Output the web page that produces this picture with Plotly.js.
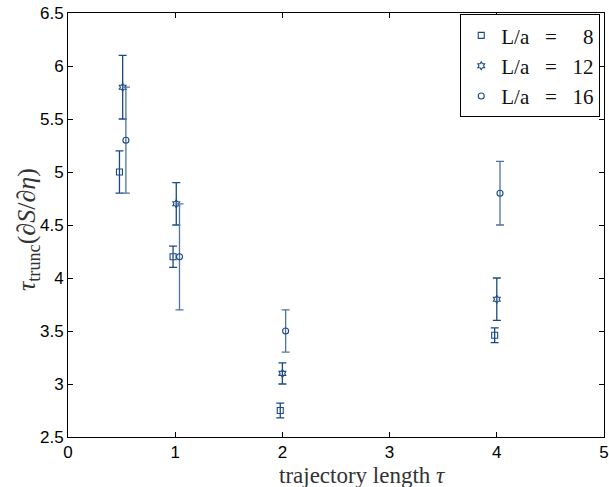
<!DOCTYPE html>
<html>
<head>
<meta charset="utf-8">
<script src="https://cdn.plot.ly/plotly-3.0.1.min.js"></script>
<style>html,body{margin:0;padding:0;background:#fff;}#chart{width:609px;height:487px;}</style>
</head>
<body>
<div id="chart"></div>
<script>
// Data
const seriesNames = ["L/a\u00A0\u00A0\u00A0=\u00A0\u00A0\u00A0\u20078", "L/a\u00A0\u00A0\u00A0=\u00A0\u00A0\u00A012", "L/a\u00A0\u00A0\u00A0=\u00A0\u00A0\u00A016"];
const x8  = [0.48, 0.98, 1.98, 3.98];
const y8  = [5.0, 4.2, 2.75, 3.46];
const e8  = [0.2, 0.1, 0.07, 0.07];
const x12 = [0.51, 1.01, 2.00, 4.00];
const y12 = [5.8, 4.7, 3.1, 3.8];
const e12 = [0.3, 0.2, 0.1, 0.2];
const x16 = [0.54, 1.04, 2.03, 4.03];
const y16 = [5.3, 4.2, 3.5, 4.8];
const e16 = [0.5, 0.5, 0.2, 0.3];
const xTicks = [0, 1, 2, 3, 4, 5];
const yTicks = [2.5, 3, 3.5, 4, 4.5, 5, 5.5, 6, 6.5];
const xTitle = "trajectory length <i>τ</i>";
const yTitle = "<i>τ</i><sub>trunc</sub>(∂<i>S</i>/∂<i>η</i>)";

const col = "#1a4a85";
function tr(x, y, e, name, sym, ecol) {
  return {
    type: "scatter", mode: "markers", x: x, y: y, name: name,
    marker: {symbol: sym, size: 6, color: col, line: {color: col, width: 1.1}},
    error_y: {type: "data", array: e, visible: true, color: ecol, thickness: 1.3, width: 4}
  };
}
const data = [
  tr(x8, y8, e8, seriesNames[0], "square-open", col),
  tr(x12, y12, e12, seriesNames[1], "hexagram-open", col),
  tr(x16, y16, e16, seriesNames[2], "circle-open", "#4f73a0")
];
const serif = "Liberation Serif, DejaVu Serif, serif";
const sans = "Liberation Sans, Arial, sans-serif";
const layout = {
  width: 609, height: 487,
  margin: {l: 68, r: 5, t: 13, b: 50},
  paper_bgcolor: "#fff", plot_bgcolor: "#fff",
  showlegend: true,
  legend: {
    x: 0.993, y: 0.997, xanchor: "right", yanchor: "top",
    bgcolor: "#fff", bordercolor: "#000", borderwidth: 1,
    font: {family: serif, size: 21, color: "#111"},
    tracegroupgap: 0, itemsizing: "trace", itemwidth: 30
  },
  xaxis: {
    range: [0, 5], tickvals: xTicks, ticktext: xTicks.map(String),
    ticks: "inside", ticklen: 5, tickcolor: "#000", ticklabeloverflow: "allow",
    showline: true, linecolor: "#000", linewidth: 1, mirror: "allticks",
    showgrid: false, zeroline: false,
    tickfont: {family: sans, size: 17, color: "#000"}
  },
  yaxis: {
    range: [2.5, 6.5], tickvals: yTicks, ticktext: yTicks.map(String),
    ticks: "inside", ticklen: 5, tickcolor: "#000",
    showline: true, linecolor: "#000", linewidth: 1, mirror: "allticks",
    showgrid: false, zeroline: false,
    tickfont: {family: sans, size: 17, color: "#000"}
  },
  annotations: [
    {text: xTitle, xref: "paper", yref: "paper", x: 0.5, y: 0, xanchor: "center", yanchor: "top",
     xshift: 26, yshift: -25, borderpad: 0, showarrow: false, font: {family: serif, size: 23, color: "#333"}},
    {text: yTitle, xref: "paper", yref: "paper", x: 0, y: 0.5, xanchor: "center", yanchor: "middle",
     xshift: -40, yshift: -5, textangle: -90, showarrow: false, font: {family: serif, size: 26, color: "#333"}}
  ]
};
Plotly.newPlot("chart", data, layout, {staticPlot: true, displayModeBar: false});
</script>
</body>
</html>
